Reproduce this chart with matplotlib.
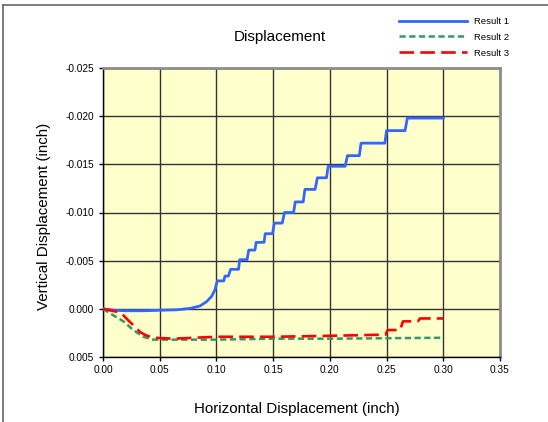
import matplotlib
matplotlib.use("Agg")
import matplotlib.pyplot as plt
from matplotlib.lines import Line2D

plt.rcParams['font.family'] = ['Liberation Sans', 'DejaVu Sans']
plt.rcParams['lines.scale_dashes'] = False

# Result 1 (stair-stepping curve)
r1_x = [0, 0.01, 0.02, 0.035, 0.05, 0.065, 0.077, 0.0855, 0.0914, 0.0958, 0.0988,
        0.1000, 0.1010, 0.1065, 0.1075, 0.1105, 0.1125, 0.1195, 0.1205, 0.1270,
        0.1285, 0.1340, 0.1350, 0.1420, 0.1430, 0.1495, 0.1510, 0.1580, 0.1600,
        0.1680, 0.1695, 0.1765, 0.1780, 0.1870, 0.1890, 0.1970, 0.1985, 0.2135,
        0.2155, 0.2260, 0.2275, 0.2485, 0.2500, 0.2663, 0.2683, 0.3000]
r1_y = [0, 0.00015, 0.0002, 0.0002, 0.00015, 0.0001, -0.00005, -0.0003, -0.00075, -0.0013, -0.002,
        -0.0026, -0.0029, -0.0029, -0.0034, -0.0034, -0.0041, -0.0041, -0.0051, -0.0051,
        -0.0061, -0.0061, -0.0069, -0.0069, -0.0078, -0.0078, -0.0089, -0.0089, -0.0100,
        -0.0100, -0.0111, -0.0111, -0.0124, -0.0124, -0.0136, -0.0136, -0.0148, -0.0148,
        -0.0159, -0.0159, -0.0172, -0.0172, -0.0185, -0.0185, -0.0198, -0.0198]

# Result 2
r2_x = [0, 0.006, 0.018, 0.0267, 0.0355, 0.044, 0.06, 0.10, 0.15, 0.20, 0.25, 0.30]
r2_y = [0, 0.00045, 0.0013, 0.0022, 0.0029, 0.0032, 0.0032, 0.0032, 0.0031, 0.0031, 0.00305, 0.0030]

# Result 3
r3_x = [0, 0.012, 0.0165, 0.0223, 0.0267, 0.0326, 0.037, 0.044, 0.062, 0.10, 0.15, 0.20,
        0.24, 0.249, 0.251, 0.2619, 0.2645, 0.2775, 0.2795, 0.30]
r3_y = [0, 0.0003, 0.0005, 0.0012, 0.0017, 0.0024, 0.0027, 0.0030, 0.0031, 0.0029, 0.0029, 0.0028,
        0.0027, 0.0027, 0.0022, 0.0022, 0.0013, 0.0013, 0.0010, 0.0010]

x_ticks = [0.00, 0.05, 0.10, 0.15, 0.20, 0.25, 0.30, 0.35]
x_labels = ["0.00", "0.05", "0.10", "0.15", "0.20", "0.25", "0.30", "0.35"]
y_ticks = [-0.025, -0.020, -0.015, -0.010, -0.005, 0.000, 0.005]
y_labels = ["-0.025", "-0.020", "-0.015", "-0.010", "-0.005", "0.000", "0.005"]

W, H = 548, 422
fig = plt.figure(figsize=(W / 100, H / 100), dpi=100)

# outer chart frame (only left and top edges visible)
fig.add_artist(Line2D([3 / W, 3 / W], [0, 1 - 5 / H], color='#666666', lw=1.2))
fig.add_artist(Line2D([3 / W, 1], [1 - 5 / H, 1 - 5 / H], color='#666666', lw=1.2))

ax = fig.add_axes([103 / W, 1 - 357 / H, 397 / W, 289 / H])
ax.set_facecolor('#FFFFCC')

ax.plot(r1_x, r1_y, color='#3366FF', lw=2.0, label='Result 1', zorder=5)
ax.plot(r2_x, r2_y, color='#339966', lw=1.8, dashes=(4.5, 2.5), label='Result 2', zorder=4)
ax.plot(r3_x, r3_y, color='#FF0000', lw=1.9, dashes=(10.5, 4.5), label='Result 3', zorder=6)

ax.set_xlim(0, 0.35)
ax.set_ylim(0.005, -0.025)
ax.set_xticks(x_ticks)
ax.set_xticklabels(x_labels)
ax.set_yticks(y_ticks)
ax.set_yticklabels(y_labels)
ax.tick_params(axis='both', labelsize=7.3, direction='out', length=3, width=1, color='black')
ax.tick_params(axis='x', pad=3)
ax.grid(True, color='#333333', lw=1.0)
ax.set_axisbelow(True)

for s in ['top', 'right']:
    ax.spines[s].set_color('#8C8C8C')
    ax.spines[s].set_linewidth(2.0)
for s in ['left', 'bottom']:
    ax.spines[s].set_color('black')
    ax.spines[s].set_linewidth(1.0)

fig.text(280 / W, 1 - 37 / H, "Displacement", ha='center', va='center', fontsize=11)
fig.text(297 / W, 1 - 409 / H, "Horizontal Displacement (inch)", ha='center', va='center', fontsize=10.9)
fig.text(44 / W, 1 - 216 / H, "Vertical Displacement (inch)", ha='center', va='center',
         rotation=90, fontsize=10.9)

ax.legend(loc='upper left', bbox_to_anchor=(399 / W, 1 - 17 / H), bbox_transform=fig.transFigure,
          frameon=False, fontsize=6.8, handlelength=7.2, handletextpad=0.75,
          labelspacing=0.72, borderpad=0, borderaxespad=0)

fig.savefig("out.png", dpi=100)
